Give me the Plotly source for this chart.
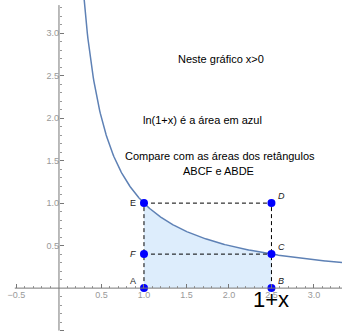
import numpy as np
import plotly.graph_objects as go

# --- data ---
pt_names = ["A", "B", "C", "D", "E", "F"]
pt_x = [1.0, 2.5, 2.5, 2.5, 1.0, 1.0]
pt_y = [0.0, 0.0, 0.4, 1.0, 1.0, 0.4]
x_tickvals = [-0.5, 0.5, 1.0, 1.5, 2.0, 2.5, 3.0]
x_ticktext = ["\u22120.5", "0.5", "1.0", "1.5", "2.0", "2.5", "3.0"]
y_tickvals = [-0.5, 0.5, 1.0, 1.5, 2.0, 2.5, 3.0]
y_ticktext = ["\u22120.5", "0.5", "1.0", "1.5", "2.0", "2.5", "3.0"]
x_upper = 2.5
texts = ["Neste gráfico x>0", "ln(1+x) é a área em azul",
         "Compare com as áreas dos retângulos", "ABCF e ABDE"]

W, H = 342, 334
xr = [-0.694, 3.33]
yr = [-0.54, 3.39]

xc = np.linspace(0.28, xr[1], 400)
xs = np.linspace(1.0, x_upper, 200)

fig = go.Figure()
fig.add_trace(go.Scatter(x=xs, y=1 / xs, mode="lines", line=dict(width=0),
                         fill="tozeroy", fillcolor="#ddedfc", hoverinfo="skip"))
fig.add_trace(go.Scatter(x=xc, y=1 / xc, mode="lines",
                         line=dict(color="#5e81b5", width=1.5)))

# dashed rectangle lines
P = dict(zip(pt_names, zip(pt_x, pt_y)))
for a, b in [("E", "D"), ("F", "C"), ("A", "E"), ("B", "D")]:
    fig.add_trace(go.Scatter(x=[P[a][0], P[b][0]], y=[P[a][1], P[b][1]], mode="lines",
                             line=dict(color="black", width=1, dash="4px,3px")))

fig.add_trace(go.Scatter(x=pt_x, y=pt_y, mode="markers",
                         marker=dict(color="#0000ff", size=8), cliponaxis=False))

# axis lines
fig.add_shape(type="line", x0=-0.52, x1=xr[1], y0=0, y1=0, line=dict(color="#777", width=1))
fig.add_shape(type="line", x0=0, x1=0, y0=-0.5, y1=3.33, line=dict(color="#777", width=1))

# point labels
offs = {"A": (-11, -7, False), "B": (10, -7, True), "C": (10, -7, True),
        "D": (10, -7, True), "E": (-11, 0, False), "F": (-11, 0, True)}
for n in pt_names:
    dx, dy, it = offs[n]
    lab = f"<i>{n}</i>" if it else n
    fig.add_annotation(x=P[n][0], y=P[n][1], text=lab, showarrow=False,
                       xshift=dx, yshift=-dy, font=dict(family="Liberation Sans", size=9, color="#222"))

fig.add_annotation(x=x_upper, y=0, text="1+x", showarrow=False, yshift=-11,
                   font=dict(family="Liberation Sans", size=22, color="black"))

tpos = [(1.91, 2.7), (1.69, 1.98), (1.89, 1.56), (1.88, 1.38)]
for t, (tx, ty) in zip(texts, tpos):
    fig.add_annotation(x=tx, y=ty, text=t, showarrow=False,
                       font=dict(family="Liberation Sans", size=11, color="black"))

xpos = (0 - yr[0]) / (yr[1] - yr[0])
ypos = (0 - xr[0]) / (xr[1] - xr[0])
minor_vals = [round(-0.5 + 0.1 * i, 2) for i in range(39) if abs(-0.5 + 0.1 * i) > 1e-9]

fig.update_layout(
    width=W, height=H, margin=dict(l=0, r=0, t=0, b=0),
    plot_bgcolor="white", paper_bgcolor="white", showlegend=False,
    xaxis=dict(range=xr, anchor="free", position=xpos, automargin=False, showgrid=False, zeroline=False,
               showline=False, tickvals=x_tickvals, ticktext=x_ticktext, ticks="inside",
               ticklen=4, tickcolor="#777", tickfont=dict(family="Liberation Sans", size=9, color="#999"),
               minor=dict(tickvals=minor_vals, ticks="inside", ticklen=2, tickcolor="#999")),
    yaxis=dict(range=yr, anchor="free", position=ypos, automargin=False, showgrid=False, zeroline=False,
               showline=False, tickvals=y_tickvals, ticktext=y_ticktext, ticks="inside",
               ticklen=4, tickcolor="#777", tickfont=dict(family="Liberation Sans", size=9, color="#999"),
               minor=dict(tickvals=minor_vals, ticks="inside", ticklen=2, tickcolor="#999")),
)
fig.write_html("out.html", config={"displayModeBar": False},
               post_script="document.body.style.margin='0px';document.body.style.overflow='hidden';")
